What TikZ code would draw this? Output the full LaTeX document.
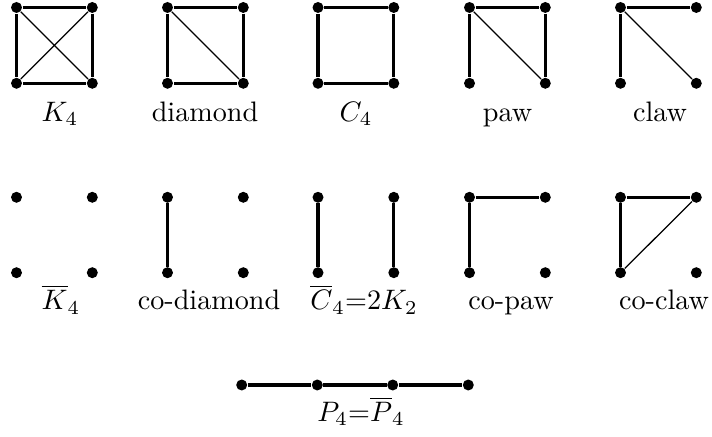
\documentclass[tikz,border=0pt]{standalone}
\begin{document}
\begin{tikzpicture}[x=0.355pt,y=-0.355pt,
  v/.style={circle,fill,inner sep=0pt,minimum size=3.9pt},
  thk/.style={line width=1.2pt},
  thn/.style={line width=0.45pt},
  lab/.style={anchor=base,inner sep=0pt}]
\useasboundingbox (0,0) rectangle (712,437);
% row 1 and row 2 vertices
\foreach \n/\l in {a/16.5,b/167.5,c/318,d/469.5,e/620.5}{
  \node[v] (\n tl) at (\l,7.5) {};
  \node[v] (\n tr) at (\l+75.8,7.5) {};
  \node[v] (\n bl) at (\l,83.3) {};
  \node[v] (\n br) at (\l+75.8,83.3) {};
}
\foreach \n/\l in {f/16.5,g/167.5,h/318,i/469.5,j/620.5}{
  \node[v] (\n tl) at (\l,197.3) {};
  \node[v] (\n tr) at (\l+75.8,197.3) {};
  \node[v] (\n bl) at (\l,272.7) {};
  \node[v] (\n br) at (\l+75.8,272.7) {};
}
% row 3
\node[v] (p1) at (241.7,385) {};
\node[v] (p2) at (317.3,385) {};
\node[v] (p3) at (392.7,385) {};
\node[v] (p4) at (468.3,385) {};
% K4
\draw[thk] (atl) -- (atr) -- (abr) -- (abl) -- (atl);
\draw[thn] (atl) -- (abr) (atr) -- (abl);
% diamond
\draw[thk] (btl) -- (btr) -- (bbr) -- (bbl) -- (btl);
\draw[thn] (btl) -- (bbr);
% C4
\draw[thk] (ctl) -- (ctr) -- (cbr) -- (cbl) -- (ctl);
% paw
\draw[thk] (dbl) -- (dtl) -- (dtr) -- (dbr);
\draw[thn] (dtl) -- (dbr);
% claw
\draw[thk] (ebl) -- (etl) -- (etr);
\draw[thn] (etl) -- (ebr);
% co-diamond
\draw[thk] (gtl) -- (gbl);
% co-C4
\draw[thk] (htl) -- (hbl) (htr) -- (hbr);
% co-paw
\draw[thk] (ibl) -- (itl) -- (itr);
% co-claw
\draw[thk] (jbl) -- (jtl) -- (jtr);
\draw[thn] (jbl) -- (jtr);
% P4
\draw[thk] (p1) -- (p2) -- (p3) -- (p4);
% labels
\node[lab] (l1) at (60,121.5) {$K_4$};
\node[lab] (l2) at (205,121.5) {diamond};
\node[lab] (l3) at (356,121.5) {$C_4$};
\node[lab] (l4) at (507.5,121.5) {paw};
\node[lab] (l5) at (660,121.5) {claw};
\node[lab] (l6) at (61,310) {$\overline{K}_4$};
\node[lab] (l7) at (209,310) {co-diamond};
\node[lab] (l8) at (364,310) {$\overline{C}_4{=}2K_2$};
\node[lab] (l9) at (511,310) {co-paw};
\node[lab] (l10) at (664,310) {co-claw};
\node[lab] (l11) at (361,421.5) {$P_4{=}\overline{P}_4$};
\end{tikzpicture}
\end{document}
